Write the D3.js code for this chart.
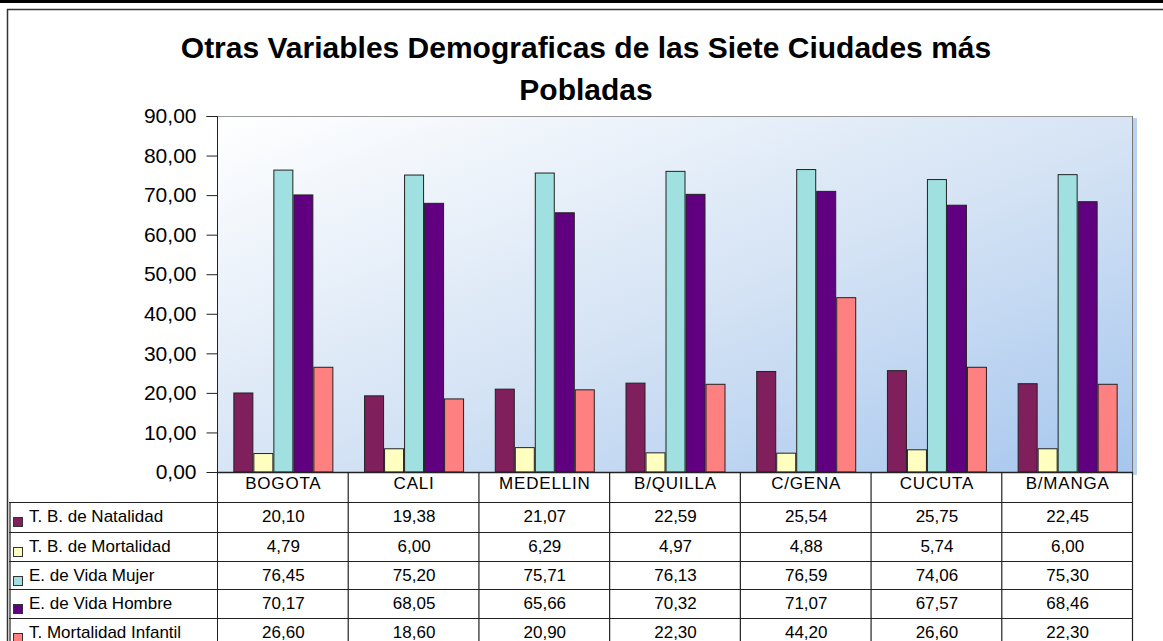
<!DOCTYPE html>
<html>
<head>
<meta charset="utf-8">
<script src="https://cdn.jsdelivr.net/npm/d3@7"></script>
<style>
  html, body { margin: 0; padding: 0; background: #fff; }
  svg { display: block; font-family: "Liberation Sans", Arial, sans-serif; }
</style>
</head>
<body>
<svg id="chart" width="1163" height="641"></svg>
<script>
const titleLines = ["Otras Variables Demograficas de las Siete Ciudades más", "Pobladas"];
const categories = ["BOGOTA", "CALI", "MEDELLIN", "B/QUILLA", "C/GENA", "CUCUTA", "B/MANGA"];
const seriesNames = ["T. B. de Natalidad", "T. B. de Mortalidad", "E. de Vida Mujer", "E. de Vida Hombre", "T. Mortalidad Infantil"];
const natalidad = [20.10, 19.38, 21.07, 22.59, 25.54, 25.75, 22.45];
const mortalidad = [4.79, 6.00, 6.29, 4.97, 4.88, 5.74, 6.00];
const vidaMujer = [76.45, 75.20, 75.71, 76.13, 76.59, 74.06, 75.30];
const vidaHombre = [70.17, 68.05, 65.66, 70.32, 71.07, 67.57, 68.46];
const mortInfantil = [26.60, 18.60, 20.90, 22.30, 44.20, 26.60, 22.30];
const yTicks = [0, 10, 20, 30, 40, 50, 60, 70, 80, 90];
const seriesColors = ["#7f1f5c", "#ffffc0", "#a0e0e0", "#600080", "#ff8080"];

const seriesValues = [natalidad, mortalidad, vidaMujer, vidaHombre, mortInfantil];

const locale = d3.formatLocale({decimal: ",", thousands: ".", grouping: [3], currency: ["$", ""]});
const fmt = locale.format(".2f");

const svg = d3.select("#chart");
const W = 1163, H = 641;

const plotL = 218, plotR = 1133, plotT = 116, plotB = 472;
const rowH = [30, 30, 29, 28, 29, 30];

const defs = svg.append("defs");
const grad = defs.append("linearGradient").attr("id", "bg")
  .attr("x1", "0").attr("y1", "0").attr("x2", "1").attr("y2", "1");
grad.append("stop").attr("offset", "0%").attr("stop-color", "#ffffff");
grad.append("stop").attr("offset", "55%").attr("stop-color", "#d3e2f4");
grad.append("stop").attr("offset", "100%").attr("stop-color", "#a6c6ee");

// outer frame
svg.append("rect").attr("x", 0).attr("y", 0).attr("width", W).attr("height", 3).attr("fill", "#000");
svg.append("line").attr("x1", 7).attr("x2", W).attr("y1", 9.5).attr("y2", 9.5).attr("stroke", "#333").attr("stroke-width", 1.5);
svg.append("line").attr("x1", 7.5).attr("x2", 7.5).attr("y1", 9).attr("y2", H).attr("stroke", "#333").attr("stroke-width", 1.5);

// title
const title = svg.append("text").attr("text-anchor", "middle").attr("font-weight", "bold")
  .attr("font-size", 30).attr("fill", "#000");
titleLines.forEach((t, i) => {
  title.append("tspan").attr("x", 586).attr("y", 58 + i * 42).text(t);
});

// scales
const x0 = d3.scaleBand().domain(categories).range([plotL, plotR]).paddingInner(0.235).paddingOuter(0.1175);
const x1 = d3.scaleBand().domain(seriesNames).range([0, x0.bandwidth()]);
const step = x0.step();
const y = d3.scaleLinear().domain([0, 90]).range([plotB, plotT]);

// plot background + shadow
svg.append("rect").attr("x", plotR).attr("y", plotT + 2).attr("width", 4).attr("height", plotB - plotT + 1)
  .attr("fill", "#b8d2f0");
svg.append("rect").attr("x", plotL).attr("y", plotT).attr("width", plotR - plotL).attr("height", plotB - plotT)
  .attr("fill", "url(#bg)");
svg.append("line").attr("x1", plotL).attr("x2", plotR).attr("y1", plotT + 0.5).attr("y2", plotT + 0.5)
  .attr("stroke", "#999").attr("stroke-width", 1);
svg.append("line").attr("x1", plotR - 0.5).attr("x2", plotR - 0.5).attr("y1", plotT).attr("y2", plotB)
  .attr("stroke", "#777").attr("stroke-width", 1);

// bars
const groups = svg.append("g").selectAll("g").data(categories).join("g")
  .attr("transform", d => `translate(${x0(d)},0)`);
groups.selectAll("rect").data((c, ci) => seriesNames.map((s, si) => ({s, si, v: seriesValues[si][ci]})))
  .join("rect")
  .attr("x", d => x1(d.s) + 0.5)
  .attr("y", d => y(d.v) + 0.5)
  .attr("width", x1.bandwidth() - 1)
  .attr("height", d => y(0) - y(d.v) - 0.5)
  .attr("fill", d => seriesColors[d.si])
  .attr("stroke", "#222").attr("stroke-width", 1);

// y axis
const yAxis = d3.axisLeft(y).tickValues(yTicks).tickFormat(fmt).tickSize(11).tickPadding(10);
const ya = svg.append("g").attr("transform", `translate(${plotL - 0.5},0)`).call(yAxis);
ya.select(".domain").attr("stroke", "#222").attr("d", `M-11,${plotT + 0.5}H0V${H}`);
ya.selectAll(".tick line").attr("stroke", "#222");
ya.selectAll(".tick text").attr("font-size", 21).attr("fill", "#000")
  .attr("font-family", "'Liberation Sans', Arial, sans-serif");

// x axis line
svg.append("line").attr("x1", plotL).attr("x2", plotR).attr("y1", plotB + 0.5).attr("y2", plotB + 0.5)
  .attr("stroke", "#222").attr("stroke-width", 1.5);

// data table
const rowTops = [plotB];
rowH.forEach((h, i) => rowTops.push(rowTops[i] + h));
for (let i = 1; i < rowTops.length; i++) {
  svg.append("line").attr("x1", 9).attr("x2", plotR).attr("y1", rowTops[i] + 0.5).attr("y2", rowTops[i] + 0.5)
    .attr("stroke", "#222").attr("stroke-width", 1.2);
}
svg.append("line").attr("x1", 10).attr("x2", 10).attr("y1", rowTops[1]).attr("y2", H)
  .attr("stroke", "#222").attr("stroke-width", 1.2);
categories.forEach((c, i) => {
  const xr = plotL + step * (i + 1);
  svg.append("line").attr("x1", xr - 0.5).attr("x2", xr - 0.5).attr("y1", plotB).attr("y2", H)
    .attr("stroke", "#222").attr("stroke-width", 1.2);
});

// category header labels
svg.append("g").selectAll("text").data(categories).join("text")
  .attr("x", (d, i) => plotL + step * (i + 0.5))
  .attr("y", plotB + 17)
  .attr("text-anchor", "middle").attr("font-size", 17).attr("letter-spacing", "0.8px")
  .attr("fill", "#000").text(d => d);

// series rows
seriesNames.forEach((s, si) => {
  const top = rowTops[si + 1];
  svg.append("rect").attr("x", 13.5).attr("y", top + 15.5).attr("width", 9).attr("height", 9)
    .attr("fill", seriesColors[si]).attr("stroke", "#333").attr("stroke-width", 1);
  svg.append("text").attr("x", 29).attr("y", top + 20).attr("font-size", 17)
    .attr("fill", "#000").text(s);
  categories.forEach((c, ci) => {
    svg.append("text").attr("x", plotL + step * (ci + 0.5)).attr("y", top + 19.5)
      .attr("text-anchor", "middle").attr("font-size", 17).attr("fill", "#000")
      .text(fmt(seriesValues[si][ci]));
  });
});
</script>
</body>
</html>
